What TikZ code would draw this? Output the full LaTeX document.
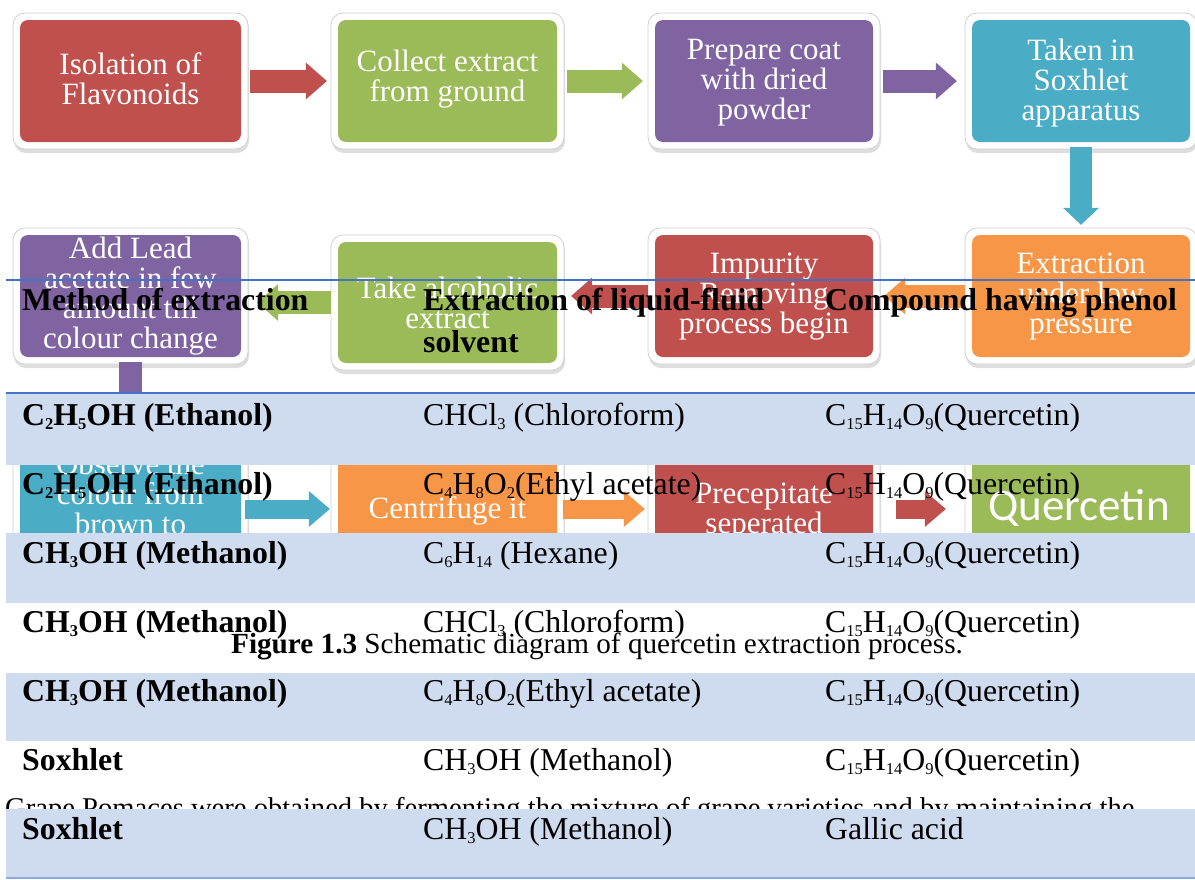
\documentclass[tikz,border=0pt]{standalone}
\usepackage{fontspec}
\setmainfont{Liberation Serif}
\newfontfamily\calibfont{Carlito}
\usetikzlibrary{arrows.meta,calc}
\definecolor{cRed}{HTML}{C0504D}
\definecolor{cGreen}{HTML}{9BBB59}
\definecolor{cPurple}{HTML}{8064A2}
\definecolor{cTeal}{HTML}{4BACC6}
\definecolor{cOrange}{HTML}{F79646}
\definecolor{bandBlue}{RGB}{207,219,238}
\definecolor{lineBlue}{HTML}{4472C4}
\definecolor{lineBlueLight}{HTML}{8EAADB}
\definecolor{frameGrey}{HTML}{D0D0D0}
\newcommand{\sbs}[1]{\raisebox{-4pt}{\fontsize{16.5}{16.5}\selectfont #1}}
\newcommand{\flowbox}[6]{%
  \fill[black,opacity=0.13,rounded corners=12pt] (#2-7+1,#3-7+3) rectangle (#4+7+1,#5+7+4);
  \draw[frameGrey,line width=0.8pt,fill=white,rounded corners=12pt] (#2-7,#3-7) rectangle (#4+7,#5+7);
  \node[fill=#6,rounded corners=8pt,inner sep=0pt,minimum width={#4-#2},minimum height={#5-#3}] (#1) at ({(#2+#4)/2},{(#3+#5)/2}) {};
}
\tikzset{
  boxtext/.style={text=white,align=center,inner sep=0pt,font=\fontsize{31}{30}\selectfont},
  bigarr/.style={line width=23pt,-{Triangle[length=21pt 0 0,width=37pt 0 0,line width=0pt]}},
  vertarr/.style={line width=22.5pt,-{Triangle[length=17pt 0 0,width=36pt 0 0,line width=0pt]}},
  smallarr/.style={line width=19pt,-{Triangle[length=21pt 0 0,width=36pt 0 0,line width=0pt]}},
  tabtext/.style={anchor=base west,inner sep=0pt,font=\fontsize{31.8}{38}\selectfont},
  tabbold/.style={anchor=base west,inner sep=0pt,font=\fontsize{31.8}{38}\selectfont\bfseries}
}
\begin{document}
\begin{tikzpicture}[x=1pt,y=-1pt]
\useasboundingbox (0,0) rectangle (1195,879);
\fill[white] (0,0) rectangle (1195,879);
% ---------- flowchart ----------
\flowbox{b1}{20}{20}{241}{142}{cRed}
\flowbox{b2}{338}{20}{557}{142}{cGreen}
\flowbox{b3}{655}{20}{873}{142}{cPurple}
\flowbox{b4}{972}{20}{1190}{142}{cTeal}
\flowbox{b5}{20}{235}{241}{357}{cPurple}
\flowbox{b6}{338}{242}{557}{363}{cGreen}
\flowbox{b7}{655}{235}{873}{357}{cRed}
\flowbox{b8}{972}{235}{1190}{357}{cOrange}
\flowbox{b9}{20}{448}{241}{570}{cTeal}
\flowbox{b10}{338}{448}{557}{570}{cOrange}
\flowbox{b11}{655}{448}{873}{570}{cRed}
\flowbox{b12}{972}{448}{1190}{570}{cGreen}

\node[boxtext] (t1) at (130.5,79) {Isolation of\\Flavonoids};
\node[boxtext] (t2) at (447.5,79) {Collect extract\\from ground};
\node[boxtext] (t3) at (764,83) {Prepare coat\\with dried\\powder};
\node[boxtext] (t4) at (1081,83) {Taken in\\Soxhlet\\apparatus};
\node[boxtext] (t5) at (130.5,296) {Add Lead\\acetate in few\\amount till\\colour change};
\node[boxtext] (t6) at (447.5,303) {Take alcoholic\\extract};
\node[boxtext] (t7) at (764,297) {Impurity\\Removing\\process begin};
\node[boxtext] (t8) at (1081,297) {Extraction\\under low\\pressure};
\node[boxtext] (t9) at (130.5,494) {Observe the\\colour from\\brown to};
\node[boxtext] (t10) at (447.5,511) {Centrifuge it};
\node[boxtext] (t11) at (764,512) {Precepitate\\seperated};
\node[text=white,inner sep=0pt,font=\calibfont\fontsize{45}{48}\selectfont] (t12) at (1079,508) {Quercetin};

\draw[bigarr,cRed] ([xshift=9]b1.east) -- ([xshift=-11]b2.west);
\draw[bigarr,cGreen] ([xshift=10]b2.east) -- ([xshift=-12]b3.west);
\draw[bigarr,cPurple] ([xshift=10]b3.east) -- ([xshift=-15]b4.west);
\draw[vertarr,cTeal] ([yshift=-5]b4.south) -- ([yshift=10]b8.north);
\draw[bigarr,cOrange] ([xshift=-7]b8.west) -- ([xshift=11]b7.east);
\draw[bigarr,cRed] ([xshift=-7]b7.west) -- ($(b6.east |- b7.west)+(14,0)$);
\draw[bigarr,cGreen] ([xshift=-7]b6.west) -- ($(b5.east |- b6.west)+(16,0)$);
\draw[vertarr,cPurple] ([yshift=-5]b5.south) -- ([yshift=10]b9.north);
\draw[smallarr,cTeal] ([xshift=4]b9.east) -- ([xshift=-8]b10.west);
\draw[smallarr,cOrange] ([xshift=6]b10.east) -- ([xshift=-10]b11.west);
\draw[smallarr,cRed] ([xshift=23]b11.east) -- ([xshift=-26]b12.west);

% ---------- caption and paragraph ----------
\node[anchor=base,inner sep=0pt,font=\fontsize{29.2}{34}\selectfont] (cap) at (597,653) {\textbf{Figure 1.3} Schematic diagram of quercetin extraction process.};
\node[anchor=base west,inner sep=0pt,font=\fontsize{28.6}{34}\selectfont] (para) at (5,817) {Grape Pomaces were obtained by fermenting the mixture of grape varieties and by maintaining the};

% ---------- table ----------
\fill[bandBlue] (6,394) rectangle (1195,465);
\fill[bandBlue] (6,533) rectangle (1195,603);
\fill[bandBlue] (6,673) rectangle (1195,741);
\fill[bandBlue] (6,809) rectangle (1195,878);
\draw[lineBlue,line width=2pt] (6,280) -- (1195,280);
\draw[lineBlue,line width=2pt] (6,393) -- (1195,393);
\draw[lineBlueLight,line width=1.5pt] (6,878) -- (1195,878);

\node[tabbold] (h1) at (22,310) {Method of extraction};
\node[tabbold] (h2) at (423,310) {Extraction of liquid-fluid};
\node[tabbold] (h2b) at (423,352) {solvent};
\node[tabbold] (h3) at (825,310) {Compound having phenol};

\node[tabbold] (r1a) at (22,425) {C\sbs{2}H\sbs{5}OH (Ethanol)};
\node[tabtext] (r1b) at (423,425) {CHCl\sbs{3} (Chloroform)};
\node[tabtext] (r1c) at (825,425) {C\sbs{15}H\sbs{14}O\sbs{9}(Quercetin)};

\node[tabbold] (r2a) at (22,494) {C\sbs{2}H\sbs{5}OH (Ethanol)};
\node[tabtext] (r2b) at (423,494) {C\sbs{4}H\sbs{8}O\sbs{2}(Ethyl acetate)};
\node[tabtext] (r2c) at (825,494) {C\sbs{15}H\sbs{14}O\sbs{9}(Quercetin)};

\node[tabbold] (r3a) at (22,563) {CH\sbs{3}OH (Methanol)};
\node[tabtext] (r3b) at (423,563) {C\sbs{6}H\sbs{14} (Hexane)};
\node[tabtext] (r3c) at (825,563) {C\sbs{15}H\sbs{14}O\sbs{9}(Quercetin)};

\node[tabbold] (r4a) at (22,632) {CH\sbs{3}OH (Methanol)};
\node[tabtext] (r4b) at (423,632) {CHCl\sbs{3} (Chloroform)};
\node[tabtext] (r4c) at (825,632) {C\sbs{15}H\sbs{14}O\sbs{9}(Quercetin)};

\node[tabbold] (r5a) at (22,701) {CH\sbs{3}OH (Methanol)};
\node[tabtext] (r5b) at (423,701) {C\sbs{4}H\sbs{8}O\sbs{2}(Ethyl acetate)};
\node[tabtext] (r5c) at (825,701) {C\sbs{15}H\sbs{14}O\sbs{9}(Quercetin)};

\node[tabbold] (r6a) at (22,770) {Soxhlet};
\node[tabtext] (r6b) at (423,770) {CH\sbs{3}OH (Methanol)};
\node[tabtext] (r6c) at (825,770) {C\sbs{15}H\sbs{14}O\sbs{9}(Quercetin)};

\node[tabbold] (r7a) at (22,839) {Soxhlet};
\node[tabtext] (r7b) at (423,839) {CH\sbs{3}OH (Methanol)};
\node[tabtext] (r7c) at (825,839) {Gallic acid};
\end{tikzpicture}
\end{document}
